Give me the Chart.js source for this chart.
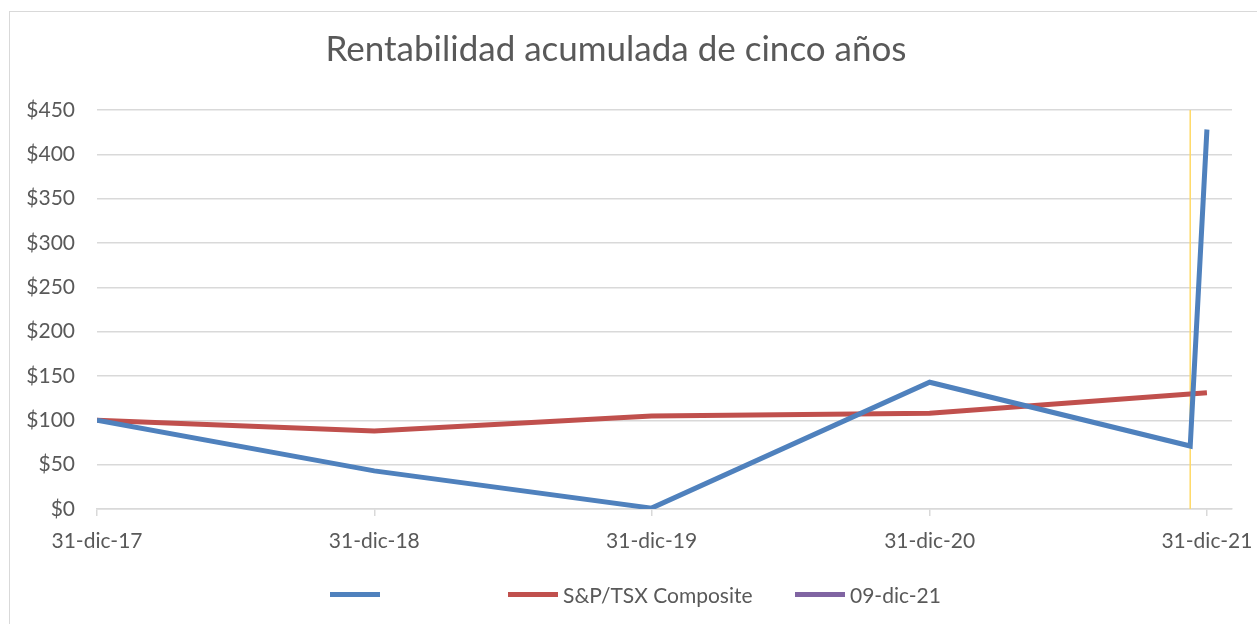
<!DOCTYPE html>
<html>
<head>
<meta charset="utf-8">
<script src="https://cdn.jsdelivr.net/npm/chart.js@4/dist/chart.umd.min.js"></script>
<style>
    html, body { margin: 0; padding: 0; background: #fff; }
    #wrap { position: relative; width: 1257px; height: 624px; }
    #frame { position: absolute; left: 9px; top: 11px; width: 1260px; height: 640px; border: 1.5px solid #d9d9d9; box-sizing: border-box; }
    #legend { position: absolute; top: 582px; left: 0; height: 24px; font-family: Lato, sans-serif; font-size: 21px; color: #595959; }
    .item { position: absolute; top: 0; display: flex; align-items: center; height: 24px; white-space: nowrap; }
    .swatch { width: 50px; height: 5px; margin-right: 5px; }
</style>
</head>
<body>
<div id="wrap">
    <div id="frame"></div>
    <canvas id="myChart" width="1257" height="624"></canvas>
    <div id="legend"></div>
</div>
<script>
// x values are days since 31-dic-17
const tickDays = [0, 365, 730, 1096, 1461];
const tickLabels = ["31-dic-17", "31-dic-18", "31-dic-19", "31-dic-20", "31-dic-21"];

const blueDays = [0, 365, 730, 1096, 1439, 1461];
const blueValues = [100, 43, 1, 143, 71, 428];

const tsxDays = [0, 365, 730, 1096, 1461];
const tsxValues = [100, 88, 105, 108, 131];

const markerDays = [1439, 1439];
const markerValues = [0, 450];

const seriesNames = ["", "S&P/TSX Composite", "09-dic-21"];
const seriesColors = ["#4f81bd", "#c0504d", "#8064a2"];
const legendLeft = [330, 508, 795];

function toPoints(days, values) {
    return days.map((d, i) => ({ x: d, y: values[i] }));
}

const ctx = document.getElementById("myChart").getContext("2d");

const chart = new Chart(ctx, {
    type: "line",
    data: {
        datasets: [
            {
                label: seriesNames[0],
                data: toPoints(blueDays, blueValues),
                borderColor: seriesColors[0],
                borderWidth: 5,
                pointRadius: 0,
                order: 1
            },
            {
                label: seriesNames[1],
                data: toPoints(tsxDays, tsxValues),
                borderColor: seriesColors[1],
                borderWidth: 5,
                pointRadius: 0,
                order: 2
            },
            {
                label: seriesNames[2],
                data: toPoints(markerDays, markerValues),
                borderColor: "#ffd966",
                borderWidth: 1.5,
                pointRadius: 0,
                order: 3
            },
        ],
    },
    options: {
        responsive: false,
        animation: false,
        layout: { padding: { left: 0, right: 25, top: 0, bottom: 0 } },
        plugins: {
            legend: { display: false },
            tooltip: { enabled: false },
            title: {
                display: true,
                text: "Rentabilidad acumulada de cinco años",
                color: "#595959",
                font: { family: "Lato", size: 35, weight: "normal" },
                padding: { top: 29, bottom: 39 },
            },
        },
        scales: {
            x: {
                type: "linear",
                min: 0,
                max: 1494,
                afterBuildTicks: (scale) => { scale.ticks = tickDays.map(v => ({ value: v })); },
                afterFit: (scale) => {
                    scale.height = 115;
                    scale.paddingLeft = 0;
                    scale.paddingRight = 0;
                },
                grid: { drawOnChartArea: false, drawTicks: true, tickLength: 7, color: "#d9d9d9", lineWidth: 1.5 },
                border: { color: "#d9d9d9", width: 1.5 },
                ticks: {
                    color: "#595959",
                    font: { family: "Lato", size: 21 },
                    padding: 13,
                    maxRotation: 0,
                    autoSkip: false,
                    callback: (value) => tickLabels[tickDays.indexOf(value)],
                },
            },
            y: {
                min: 0,
                max: 450,
                afterFit: (scale) => { scale.width = 97; },
                grid: { color: "#d9d9d9", lineWidth: 1.5, drawTicks: false },
                border: { display: false },
                ticks: {
                    stepSize: 50,
                    color: "#595959",
                    font: { family: "Lato", size: 21 },
                    padding: 22,
                    callback: (value) => "$" + value,
                },
            },
        },
    },
});

const legend = document.getElementById("legend");
seriesNames.forEach((name, i) => {
    const item = document.createElement("div");
    item.className = "item";
    item.style.left = legendLeft[i] + "px";
    item.innerHTML = `<span class="swatch" style="background:${seriesColors[i]}"></span><span>${name}</span>`;
    legend.appendChild(item);
});
</script>
</body>
</html>
